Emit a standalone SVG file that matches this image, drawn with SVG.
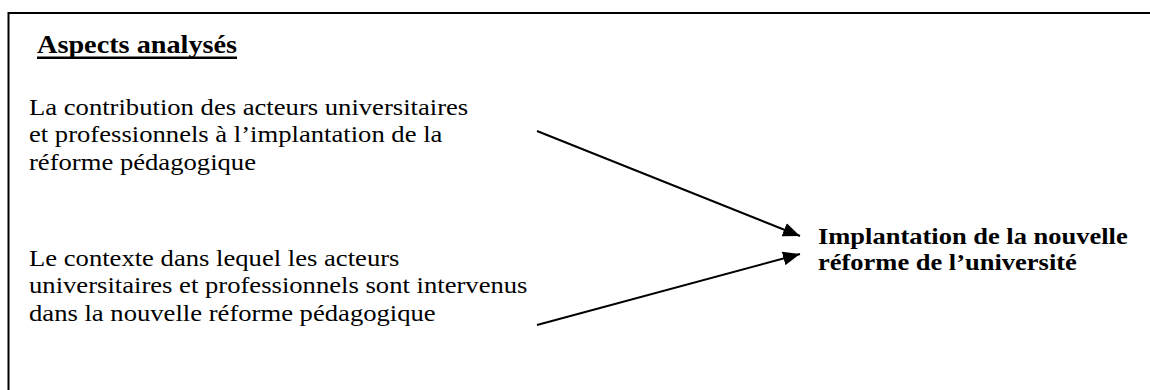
<svg xmlns="http://www.w3.org/2000/svg" width="1150" height="390" viewBox="0 0 1150 390">
<style>
.t{font-family:"Liberation Serif","Times New Roman",serif;font-size:24px;fill:#000}
.b{font-weight:bold}
.title{font-family:"Liberation Serif","Times New Roman",serif;font-size:26px;font-weight:bold;fill:#000}
.edge{stroke:#000;stroke-width:2;fill:none}
</style>
<defs>
<marker id="ah" markerUnits="userSpaceOnUse" markerWidth="18" markerHeight="14" refX="17" refY="7" orient="auto">
<path d="M0,0 L17,7 L0,14 z" fill="#000"/>
</marker>
</defs>
<rect x="0" y="0" width="1150" height="390" fill="#fff"/>
<rect id="frame" x="8.5" y="13" width="1200" height="400" fill="none" stroke="#000" stroke-width="2"/>
<g id="title" transform="translate(37 52.5) scale(1.087 1)">
<text class="title" x="0" y="0">Aspects analysés</text>
<rect x="0" y="4" width="184" height="2.5" fill="#000"/>
</g>
<g id="node-contribution" transform="translate(29 115) scale(1.11 1)">
<text class="t" x="0" y="0">La contribution des acteurs universitaires</text>
<text class="t" x="0" y="27.3">et professionnels à l’implantation de la</text>
<text class="t" x="0" y="54.6">réforme pédagogique</text>
</g>
<g id="node-contexte" transform="translate(29 265.5) scale(1.11 1)">
<text class="t" x="0" y="0">Le contexte dans lequel les acteurs</text>
<text class="t" x="0" y="27.7">universitaires et professionnels sont intervenus</text>
<text class="t" x="0" y="55.4">dans la nouvelle réforme pédagogique</text>
</g>
<g id="node-implantation" transform="translate(818 243.5) scale(1.104 1)">
<text class="t b" x="0" y="0">Implantation de la nouvelle</text>
<text class="t b" x="0" y="27">réforme de l’université</text>
</g>
<g id="connectors">
<line class="edge" x1="537" y1="131" x2="800" y2="236" marker-end="url(#ah)"/>
<line class="edge" x1="537" y1="325" x2="800" y2="254" marker-end="url(#ah)"/>
</g>
</svg>
